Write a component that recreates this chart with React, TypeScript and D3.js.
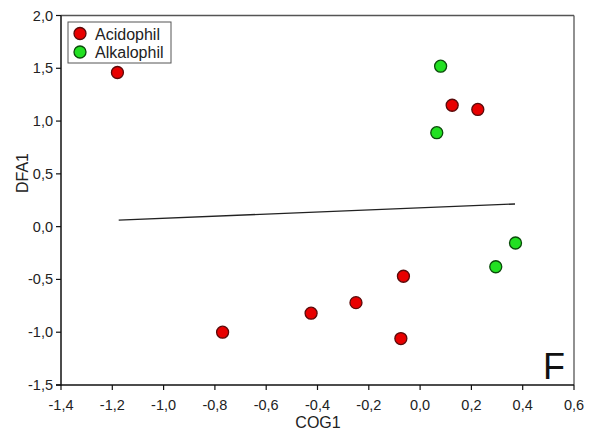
import React from "react";
import * as d3 from "d3";

const acidX = [-1.18, -0.77, -0.425, -0.25, -0.065, -0.075, 0.125, 0.225];
const acidY = [1.46, -1.0, -0.82, -0.72, -0.47, -1.06, 1.15, 1.11];
const alkX = [0.08, 0.065, 0.295, 0.372];
const alkY = [1.52, 0.89, -0.38, -0.155];
const lineX = [-1.175, 0.37];
const lineY = [0.062, 0.215];
const xTicks = [-1.4, -1.2, -1.0, -0.8, -0.6, -0.4, -0.2, 0.0, 0.2, 0.4, 0.6];
const yTicks = [-1.5, -1.0, -0.5, 0.0, 0.5, 1.0, 1.5, 2.0];
const legendLabels = ["Acidophil", "Alkalophil"];

const W = 598, H = 433;
const left = 61, right = 574, top = 15.5, bottom = 385;
const RED = "#e80000", RED_S = "#5a0a0a";
const GREEN = "#22e022", GREEN_S = "#0a4a0a";
const FONT = "Arial, 'Liberation Sans', sans-serif";

export default function App() {
  const x = d3.scaleLinear().domain([-1.4, 0.6]).range([left, right]);
  const y = d3.scaleLinear().domain([-1.5, 2.0]).range([bottom, top]);
  const fmt = (v: number) => d3.format(".1f")(v).replace(".", ",").replace("−", "-");
  const line = d3.line<number>().x((_, i) => x(lineX[i])).y((d) => y(d));
  return (
    <svg width={W} height={H} style={{ position: "absolute", left: 0, top: 0, background: "#fff" }} fontFamily={FONT}>
      <line x1={left} x2={right} y1={top} y2={top} stroke="#555" strokeWidth={1.3} />
      <line x1={right} x2={right} y1={top} y2={bottom} stroke="#555" strokeWidth={1.3} />
      <line x1={left} x2={left} y1={top} y2={bottom + 0.5} stroke="#111" strokeWidth={1.5} />
      <line x1={left - 5} x2={right} y1={bottom} y2={bottom} stroke="#111" strokeWidth={1.5} />
      {xTicks.map((t) => (
        <g key={"x" + t}>
          <line x1={x(t)} x2={x(t)} y1={bottom} y2={bottom + 5} stroke="#111" strokeWidth={1.2} />
          <text x={x(t)} y={410} textAnchor="middle" fontSize={14.5} fill="#222">{fmt(t)}</text>
        </g>
      ))}
      {yTicks.map((t) => (
        <g key={"y" + t}>
          <line x1={left - 5} x2={left} y1={y(t)} y2={y(t)} stroke="#111" strokeWidth={1.2} />
          <text x={53} y={y(t) + 5} textAnchor="end" fontSize={14.5} fill="#222">{fmt(t)}</text>
        </g>
      ))}
      <text x={318} y={428} textAnchor="middle" fontSize={16} fill="#222">COG1</text>
      <text transform={`translate(28,173) rotate(-90)`} textAnchor="middle" fontSize={16} fill="#222">DFA1</text>
      <path d={line(lineY) || ""} fill="none" stroke="#222" strokeWidth={1.4} />
      {acidX.map((v, i) => (
        <circle key={"a" + i} cx={x(v)} cy={y(acidY[i])} r={6} fill={RED} stroke={RED_S} strokeWidth={1.3} />
      ))}
      {alkX.map((v, i) => (
        <circle key={"k" + i} cx={x(v)} cy={y(alkY[i])} r={6} fill={GREEN} stroke={GREEN_S} strokeWidth={1.3} />
      ))}
      <rect x={68} y={22} width={103} height={41} fill="#fff" stroke="#555" strokeWidth={1} />
      {legendLabels.map((l, i) => (
        <g key={l}>
          <circle cx={80} cy={33.5 + i * 18.5} r={6} fill={i === 0 ? RED : GREEN} stroke={i === 0 ? RED_S : GREEN_S} strokeWidth={1.3} />
          <text x={95} y={39.5 + i * 18.5} fontSize={16} fill="#222">{l}</text>
        </g>
      ))}
      <text x={543} y={379} fontSize={36} fill="#111">F</text>
    </svg>
  );
}
